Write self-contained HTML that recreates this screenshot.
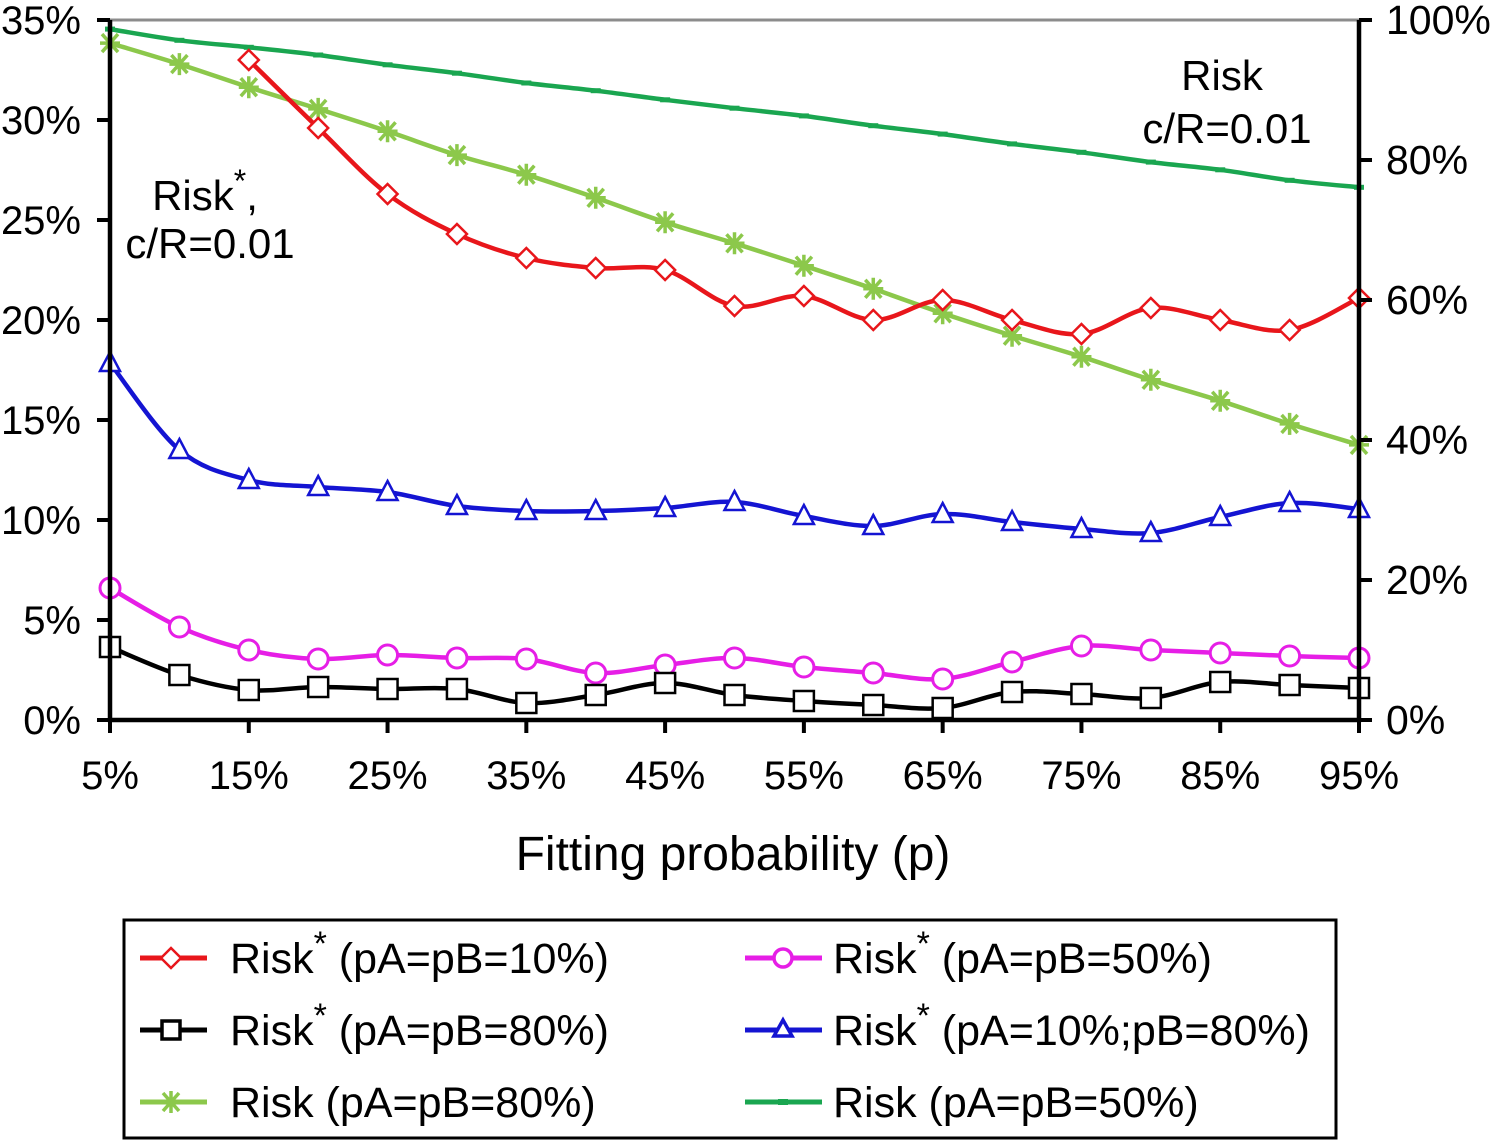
<!DOCTYPE html>
<html><head><meta charset="utf-8"><style>
body{margin:0;background:#fff}
svg text{font-family:"Liberation Sans",sans-serif;fill:#000}
</style></head><body>
<svg id="c" width="1496" height="1141" viewBox="0 0 1496 1141" xmlns="http://www.w3.org/2000/svg">
</svg>
<script>
const categories=[5,10,15,20,25,30,35,40,45,50,55,60,65,70,75,80,85,90,95];
const xTickLabels=["5%","15%","25%","35%","45%","55%","65%","75%","85%","95%"];
const leftTicks=[0,5,10,15,20,25,30,35];
const rightTicks=[0,20,40,60,80,100];
const redVals=[null,null,33.0,29.6,26.3,24.3,23.1,22.6,22.5,20.7,21.2,20.0,21.0,20.0,19.3,20.6,20.0,19.5,21.1];
const blueVals=[17.85,13.5,12.0,11.65,11.4,10.7,10.45,10.45,10.6,10.9,10.2,9.7,10.3,9.9,9.55,9.35,10.15,10.85,10.55];
const magentaVals=[6.6,4.65,3.5,3.05,3.25,3.1,3.05,2.35,2.75,3.1,2.65,2.35,2.05,2.9,3.7,3.5,3.35,3.2,3.1];
const blackVals=[3.65,2.25,1.5,1.65,1.55,1.55,0.85,1.25,1.85,1.25,0.95,0.75,0.6,1.4,1.3,1.1,1.9,1.75,1.6];
const lightGreenVals=[96.7,93.7,90.4,87.3,84.1,80.7,77.9,74.6,71.1,68.1,64.9,61.6,58.1,54.9,51.9,48.6,45.6,42.3,39.3];
const darkGreenVals=[98.7,97.1,96.1,95,93.6,92.4,91,89.9,88.6,87.4,86.3,84.9,83.7,82.3,81.1,79.7,78.6,77.1,76.1];

const NS="http://www.w3.org/2000/svg";
const svg=document.getElementById('c');
const X0=110,X1=1359,Y0=720,Y1=20;
const xS=v=>X0+(v-5)/90*(X1-X0);
const yL=v=>Y0-v/35*(Y0-Y1);
const yR=v=>Y0-v/100*(Y0-Y1);
function el(t,a,p){const e=document.createElementNS(NS,t);for(const k in a)e.setAttribute(k,a[k]);(p||svg).appendChild(e);return e;}

let g=el('line',{x1:X0,y1:Y1,x2:X1,y2:Y1,stroke:'#8c8c8c','stroke-width':3});



function smooth(pts){
  let d='M'+pts[0][0]+','+pts[0][1];
  for(let i=0;i<pts.length-1;i++){
    const p0=pts[i-1]||pts[i],p1=pts[i],p2=pts[i+1],p3=pts[i+2]||p2;
    const c1=[p1[0]+(p2[0]-p0[0])/6,p1[1]+(p2[1]-p0[1])/6];
    const c2=[p2[0]-(p3[0]-p1[0])/6,p2[1]-(p3[1]-p1[1])/6];
    d+=' C'+c1+' '+c2+' '+p2;
  }
  return d;
}
function marker(type,x,y,color,parent){
  let m;
  if(type==='diamond')m=el('path',{d:`M${x},${y-10}L${x+10},${y}L${x},${y+10}L${x-10},${y}Z`,fill:'#fff',stroke:color,'stroke-width':2.5},parent);
  else if(type==='square')m=el('rect',{x:x-10,y:y-10,width:20,height:20,fill:'#fff',stroke:color,'stroke-width':2.5},parent);
  else if(type==='circle')m=el('circle',{cx:x,cy:y,r:10,fill:'#fff',stroke:color,'stroke-width':3},parent);
  else if(type==='triangle')m=el('path',{d:`M${x},${y-11}L${x+10},${y+8}L${x-10},${y+8}Z`,fill:'#fff',stroke:color,'stroke-width':2.5},parent);
  else if(type==='star')m=el('path',{d:`M${x-10},${y}H${x+10}M${x-8},${y-9}L${x+8},${y+9}M${x+8},${y-9}L${x-8},${y+9}M${x},${y-11}V${y+11}`,fill:'none',stroke:color,'stroke-width':3.5},parent);
  else m=el('rect',{x:x-5,y:y-2.5,width:10,height:5,fill:color},parent);
  return m;
}
function series(name,vals,ys,color,type,w){
  const grp=el('g',{});
  
  
  const pts=[];
  vals.forEach((v,i)=>{if(v!=null)pts.push([xS(categories[i]),ys(v)]);});
  const p=el('path',{d:smooth(pts),fill:'none',stroke:color,'stroke-width':w},grp);
  
  
  pts.forEach(q=>{const m=marker(type,q[0],q[1],color,grp);
    
    });
}
series('series-risk-pab-50',darkGreenVals,yR,'#1aa650','dash',4.5);
series('series-risk-pab-80',lightGreenVals,yR,'#8cc84b','star',4.5);
series('series-riskstar-pab-10',redVals,yL,'#e8161b','diamond',4.5);
series('series-riskstar-pa10-pb80',blueVals,yL,'#1414d2','triangle',4.5);
series('series-riskstar-pab-50',magentaVals,yL,'#e61ee6','circle',4.5);
series('series-riskstar-pab-80',blackVals,yL,'#000','square',4.5);

const ax=el('path',{d:`M${X0},${Y1}V${Y0}H${X1}V${Y1}`,fill:'none',stroke:'#000','stroke-width':4.5});


leftTicks.forEach(t=>{const y=yL(t);
  el('line',{x1:97,y1:y,x2:X0,y2:y,stroke:'#000','stroke-width':4});
  const tx=el('text',{x:81,y:y+14,'font-size':40,'text-anchor':'end'});tx.textContent=t+'%';
  
  });
rightTicks.forEach(t=>{const y=yR(t);
  el('line',{x1:X1,y1:y,x2:1372,y2:y,stroke:'#000','stroke-width':4});
  const tx=el('text',{x:1386,y:y+14,'font-size':41});tx.textContent=t+'%';
  
  });
xTickLabels.forEach((l,i)=>{const x=xS(5+i*10);
  el('line',{x1:x,y1:Y0,x2:x,y2:Y0+13,stroke:'#000','stroke-width':4});
  const tx=el('text',{x:x,y:789,'font-size':40,'text-anchor':'middle'});tx.textContent=l;
  
  });
</script>
<script>
const s=document.getElementById('c');
s.insertAdjacentHTML('beforeend',`
<text x="733" y="870" font-size="48" text-anchor="middle">Fitting probability (p)</text>
<text x="205" y="210" font-size="42" text-anchor="middle">Risk<tspan font-size="32" dy="-18">*</tspan><tspan dy="18">,</tspan></text>
<text x="210" y="258" font-size="42" text-anchor="middle">c/R=0.01</text>
<text x="1222" y="90" font-size="42" text-anchor="middle">Risk</text>
<text x="1227" y="143" font-size="42" text-anchor="middle">c/R=0.01</text>
<g>
<rect x="124" y="920" width="1212" height="218" fill="none" stroke="#000" stroke-width="3"/>
<g><line x1="140" y1="958" x2="207" y2="958" stroke="#e8161b" stroke-width="5"/><path d="M171,948L181,958L171,968L161,958Z" fill="#fff" stroke="#e8161b" stroke-width="2.5"/><text x="230" y="973" font-size="43">Risk<tspan font-size="34" dy="-18">*</tspan><tspan dy="18"> (pA=pB=10%)</tspan></text></g>
<g><line x1="140" y1="1030" x2="207" y2="1030" stroke="#000" stroke-width="5"/><rect x="162" y="1021" width="18" height="18" fill="#fff" stroke="#000" stroke-width="3.5"/><text x="230" y="1045" font-size="43">Risk<tspan font-size="34" dy="-18">*</tspan><tspan dy="18"> (pA=pB=80%)</tspan></text></g>
<g><line x1="140" y1="1102" x2="207" y2="1102" stroke="#8cc84b" stroke-width="5"/><path d="M161,1102H181M163,1093L179,1111M179,1093L163,1111M171,1091V1113" stroke="#8cc84b" stroke-width="3.5"/><text x="230" y="1117" font-size="43">Risk (pA=pB=80%)</text></g>
<g><line x1="745" y1="958" x2="822" y2="958" stroke="#e61ee6" stroke-width="5"/><circle cx="783" cy="958" r="9" fill="#fff" stroke="#e61ee6" stroke-width="3.5"/><text x="833" y="973" font-size="43">Risk<tspan font-size="34" dy="-18">*</tspan><tspan dy="18"> (pA=pB=50%)</tspan></text></g>
<g><line x1="745" y1="1030" x2="822" y2="1030" stroke="#1414d2" stroke-width="5"/><path d="M783,1020L792,1036L774,1036Z" fill="#fff" stroke="#1414d2" stroke-width="3.5"/><text x="833" y="1045" font-size="43">Risk<tspan font-size="34" dy="-18">*</tspan><tspan dy="18"> (pA=10%;pB=80%)</tspan></text></g>
<g><line x1="745" y1="1102" x2="822" y2="1102" stroke="#1aa650" stroke-width="5"/><rect x="778" y="1099" width="10" height="6" fill="#1aa650"/><text x="833" y="1117" font-size="43">Risk (pA=pB=50%)</text></g>
</g>`);
</script>
</body></html>
